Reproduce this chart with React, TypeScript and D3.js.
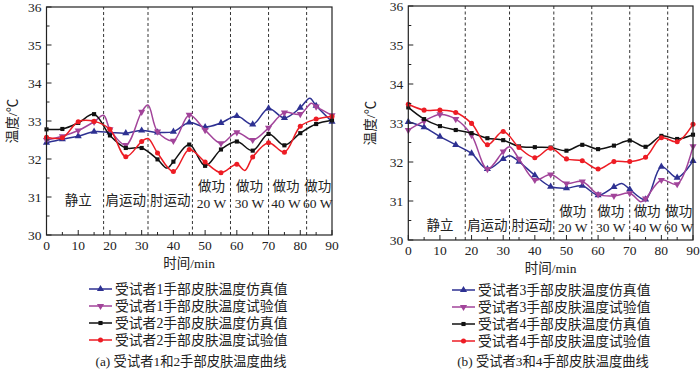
import * as d3 from 'd3';

// ---- data ----
const xTicks = [0, 10, 20, 30, 40, 50, 60, 70, 80, 90];
const yTicks = [30, 31, 32, 33, 34, 35, 36];
const phaseBounds = [18, 32, 46, 58, 70, 82];
const phaseNames = [['静立'], ['肩运动'], ['肘运动'], ['做功', '20 W'], ['做功', '30 W'], ['做功', '40 W'], ['做功', '60 W']];
const phaseCenters = [10, 25, 39, 52, 64, 75.5, 85.5];

// subject 1 / 2 (panel a)
const s1Sim: [number, number][] = [[0, 32.43], [5, 32.52], [10, 32.6], [15, 32.72], [20, 32.7], [25, 32.68], [30, 32.75], [35, 32.7], [40, 32.72], [45, 32.96], [50, 32.84], [55, 32.95], [60, 33.13], [65, 32.91], [70, 33.33], [75, 33.08], [80, 33.35], [83, 33.6], [85, 33.4], [90, 32.98]];
const s1Exp: [number, number][] = [[0, 32.5], [5, 32.6], [10, 32.75], [15, 32.98], [18, 33.15], [20, 32.78], [25, 32.37], [30, 33.24], [32, 33.42], [35, 32.72], [40, 32.48], [45, 33.16], [50, 32.76], [55, 32.41], [60, 32.7], [65, 32.5], [70, 32.82], [75, 33.22], [80, 33.18], [83.5, 33.47], [85, 33.38], [90, 33.15]];
const s2Sim: [number, number][] = [[0, 32.78], [5, 32.79], [10, 32.95], [15, 33.18], [20, 32.62], [25, 32.29], [30, 32.29], [35, 31.99], [38, 31.76], [40, 31.93], [45, 32.38], [50, 31.82], [55, 32.25], [60, 32.46], [65, 32.22], [70, 32.66], [75, 32.36], [80, 32.68], [85, 32.92], [90, 33.02]];
const s2Exp: [number, number][] = [[0, 32.57], [5, 32.56], [10, 32.98], [15, 32.99], [20, 32.78], [25, 32.06], [30, 32.46], [32, 32.54], [35, 32.16], [40, 31.67], [45, 32.25], [50, 31.92], [55, 31.64], [60, 31.86], [62.5, 31.7], [65, 32.05], [70, 32.43], [75, 32.18], [80, 32.86], [85, 33.05], [90, 33.12]];

// subject 3 / 4 (panel b)
const s3Sim: [number, number][] = [[0, 33.03], [5, 32.89], [10, 32.65], [15, 32.44], [20, 32.22], [25, 31.82], [30, 32.08], [32, 32.16], [35, 32.01], [40, 31.66], [45, 31.37], [50, 31.33], [55, 31.39], [60, 31.15], [65, 31.36], [67.5, 31.45], [70, 31.3], [75, 31.04], [80, 31.88], [85, 31.6], [90, 32.03]];
const s3Exp: [number, number][] = [[0, 32.82], [5, 33.05], [10, 33.22], [15, 33.1], [20, 32.69], [25, 31.82], [30, 32.27], [32, 32.39], [35, 32.08], [40, 31.54], [45, 31.68], [50, 31.45], [55, 31.5], [60, 31.17], [65, 31.13], [70, 31.2], [73.5, 30.98], [75, 31.06], [80, 31.54], [85, 31.43], [90, 32.4]];
const s4Sim: [number, number][] = [[0, 33.4], [5, 33.1], [10, 32.92], [15, 32.82], [20, 32.74], [25, 32.61], [30, 32.56], [35, 32.4], [40, 32.38], [45, 32.37], [50, 32.29], [55, 32.44], [60, 32.33], [65, 32.42], [70, 32.55], [75, 32.39], [80, 32.67], [85, 32.59], [90, 32.7]];
const s4Exp: [number, number][] = [[0, 33.48], [5, 33.33], [10, 33.33], [15, 33.27], [20, 32.99], [25, 32.44], [30, 32.78], [35, 32.37], [40, 32.11], [45, 32.35], [50, 32.08], [55, 32.03], [60, 31.82], [65, 32.01], [70, 32.01], [75, 32.12], [80, 32.62], [85, 32.52], [90, 32.97]];

const legendA = ['受试者1手部皮肤温度仿真值', '受试者1手部皮肤温度试验值', '受试者2手部皮肤温度仿真值', '受试者2手部皮肤温度试验值'];
const legendB = ['受试者3手部皮肤温度仿真值', '受试者3手部皮肤温度试验值', '受试者4手部皮肤温度仿真值', '受试者4手部皮肤温度试验值'];
const captionA = '(a) 受试者1和2手部皮肤温度曲线';
const captionB = '(b) 受试者3和4手部皮肤温度曲线';

const COLORS = ['#2e3192', '#a2449a', '#111111', '#ed1c24'];
const FONT = "'Liberation Serif', 'Times New Roman', 'Noto Sans CJK SC', serif";

const symbolPath = (i: number) => {
  if (i === 0 || i === 1) return d3.symbol(d3.symbolTriangle, 22)() || '';
  if (i === 2) return d3.symbol(d3.symbolSquare, 17)() || '';
  return d3.symbol(d3.symbolCircle, 20)() || '';
};

const Marker = ({ i, x, y }: { i: number; x: number; y: number }) => (
  <path
    d={symbolPath(i)}
    fill={COLORS[i]}
    transform={`translate(${x},${y})${i === 1 ? ' rotate(180)' : ''}`}
  />
);

interface PanelProps {
  x0: number;
  x1: number;
  yTop: number;
  yBot: number;
  series: [number, number][][];
  legend: string[];
  caption: string;
  yTitleX: number;
  labelSingle: number;
  labelTop: number;
  labelBottom: number;
  legendX: number;
  legendRows: number[];
  captionX: number;
}

function Panel(p: PanelProps) {
  const x = d3.scaleLinear().domain([0, 90]).range([p.x0, p.x1]);
  const y = d3.scaleLinear().domain([30, 36]).range([p.yBot, p.yTop]);
  const line = d3.line<[number, number]>()
    .x((d) => x(d[0]))
    .y((d) => y(d[1]))
    .curve(d3.curveCatmullRom.alpha(0.5));

  const yMinor = d3.range(30.5, 36, 1);
  const xMinor = d3.range(5, 90, 10);

  return (
    <g fontFamily={FONT} fill="#222">
      {/* phase dividers */}
      {phaseBounds.map((b) => (
        <line key={b} x1={x(b)} x2={x(b)} y1={p.yBot} y2={p.yTop}
          stroke="#333" strokeWidth={1} strokeDasharray="3,2.5" />
      ))}

      {/* phase labels */}
      {phaseNames.map((n, i) =>
        n.length === 1 ? (
          <text key={i} x={x(phaseCenters[i])} y={p.labelSingle} textAnchor="middle" fontSize={13.5}>{n[0]}</text>
        ) : (
          <g key={i}>
            <text x={x(phaseCenters[i])} y={p.labelTop} textAnchor="middle" fontSize={13.5}>{n[0]}</text>
            <text x={x(phaseCenters[i])} y={p.labelBottom} textAnchor="middle" fontSize={13.5}>{n[1]}</text>
          </g>
        )
      )}

      {/* series */}
      {p.series.map((s, i) => (
        <g key={i}>
          <path d={line(s) || ''} fill="none" stroke={COLORS[i]} strokeWidth={1.5} />
          {s.filter((d) => d[0] % 5 === 0).map((d) => (
            <Marker key={d[0]} i={i} x={x(d[0])} y={y(d[1])} />
          ))}
        </g>
      ))}

      {/* frame */}
      <rect x={p.x0} y={p.yTop} width={p.x1 - p.x0} height={p.yBot - p.yTop}
        fill="none" stroke="#222" strokeWidth={1.2} />

      {/* y axis ticks */}
      {yTicks.map((t) => (
        <g key={t}>
          <line x1={p.x0} x2={p.x0 + 5} y1={y(t)} y2={y(t)} stroke="#222" />
          <text x={p.x0 - 5} y={y(t) + 4.5} textAnchor="end" fontSize={13.5}>{t}</text>
        </g>
      ))}
      {yMinor.map((t) => (
        <line key={t} x1={p.x0} x2={p.x0 + 3} y1={y(t)} y2={y(t)} stroke="#222" />
      ))}

      {/* x axis ticks */}
      {xTicks.map((t) => (
        <g key={t}>
          <line x1={x(t)} x2={x(t)} y1={p.yBot} y2={p.yBot - 5} stroke="#222" />
          <text x={x(t)} y={p.yBot + 15} textAnchor="middle" fontSize={13.5}>{t}</text>
        </g>
      ))}
      {xMinor.map((t) => (
        <line key={t} x1={x(t)} x2={x(t)} y1={p.yBot} y2={p.yBot - 3} stroke="#222" />
      ))}

      {/* axis titles */}
      <text x={(p.x0 + p.x1) / 2} y={p.yBot + 33} textAnchor="middle" fontSize={13.5}>时间/min</text>
      <text transform={`translate(${p.yTitleX},${(p.yTop + p.yBot) / 2}) rotate(-90)`}
        textAnchor="middle" dominantBaseline="central" fontSize={13.5}>温度/℃</text>

      {/* legend */}
      {p.legend.map((l, i) => (
        <g key={l}>
          <line x1={p.legendX} x2={p.legendX + 23} y1={p.legendRows[i]} y2={p.legendRows[i]}
            stroke={COLORS[i]} strokeWidth={1.5} />
          <Marker i={i} x={p.legendX + 11.5} y={p.legendRows[i]} />
          <text x={p.legendX + 26} y={p.legendRows[i] + 5} fontSize={13.8}>{l}</text>
        </g>
      ))}

      <text x={p.captionX} y={366} textAnchor="middle" fontSize={13.3}>{p.caption}</text>
    </g>
  );
}

export default function App() {
  return (
    <svg width={700} height={369} viewBox="0 0 700 369"
      style={{ position: 'absolute', left: 0, top: 0, background: '#fff' }}>
      <Panel
        x0={46.5} x1={332} yTop={7} yBot={235}
        series={[s1Sim, s1Exp, s2Sim, s2Exp]}
        legend={legendA} caption={captionA}
        yTitleX={12}
        labelSingle={205} labelTop={191} labelBottom={208}
        legendX={89} legendRows={[289, 306, 323, 340]}
        captionX={191}
      />
      <Panel
        x0={408.3} x1={693} yTop={6} yBot={240}
        series={[s3Sim, s3Exp, s4Sim, s4Exp]}
        legend={legendB} caption={captionB}
        yTitleX={370}
        labelSingle={229.5} labelTop={216} labelBottom={232}
        legendX={452} legendRows={[290, 307, 324, 341]}
        captionX={553}
      />
    </svg>
  );
}
